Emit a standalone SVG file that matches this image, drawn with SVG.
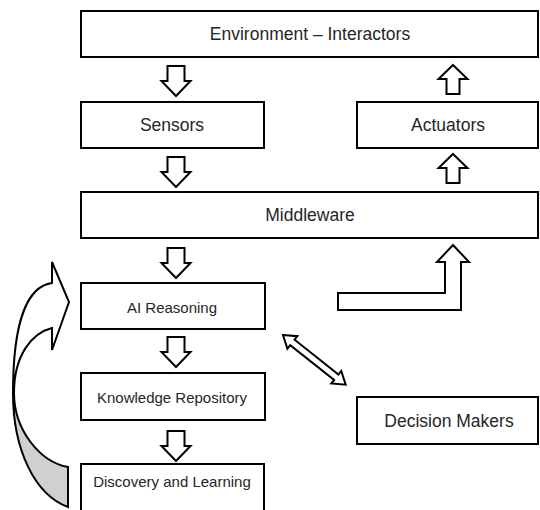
<svg xmlns="http://www.w3.org/2000/svg" xmlns:xlink="http://www.w3.org/1999/xlink" width="540" height="510" viewBox="0 0 540 510">
<style>
.box{fill:#fff;stroke:#000;stroke-width:2}
.arr{fill:#fff;stroke:#000;stroke-width:2;stroke-linejoin:miter}
.t{font-family:"Liberation Sans",Arial,sans-serif;fill:#262626;text-anchor:middle}
.big{font-size:17.5px}
.sm{font-size:15px}
</style>
<defs>
<polygon id="down" points="-8.5,0 8.5,0 8.5,15 14.5,15 0,30 -14.5,15 -8.5,15"/>
<polygon id="up" points="0,0 14.5,14 6.5,14 6.5,29 -6.5,29 -6.5,14 -14.5,14"/>
</defs>
<rect width="540" height="510" fill="#fff"/>
<g id="connectors">
<use xlink:href="#down" href="#down" class="arr" x="176" y="66"/>
<use xlink:href="#down" href="#down" class="arr" x="176" y="157"/>
<use xlink:href="#down" href="#down" class="arr" x="176" y="248"/>
<use xlink:href="#down" href="#down" class="arr" x="176" y="337"/>
<use xlink:href="#down" href="#down" class="arr" x="176" y="431"/>
<use xlink:href="#up" href="#up" class="arr" x="453" y="65"/>
<use xlink:href="#up" href="#up" class="arr" x="453" y="154"/>
<polygon class="arr" points="338,293 445,293 445,262 437,262 453,245 469,262 461,262 461,310 338,310"/>
<g transform="translate(283,335) rotate(38.4)">
<polygon class="arr" points="0,0 12,-8 12,-3.5 68,-3.5 68,-8 80,0 68,8 68,3.5 12,3.5 12,8"/>
</g>
<g id="loop">
<path d="M13,393 C13,450 35,495 68,507 L68,467 C40,462 14,430 14,393 Z" fill="#d0d0d0" stroke="#000" stroke-width="2"/>
<path d="M14,393 C14,355 32,333 52,328 L52,350 L69,302 L52,262 L52,283 C30,286 13,315 13,393 Z" fill="#fff" stroke="#000" stroke-width="2" stroke-linejoin="miter"/>
</g>
</g>
<g id="environment"><rect class="box" x="81" y="11" width="457" height="46"/><text class="t big" x="310" y="40">Environment – Interactors</text></g>
<g id="sensors"><rect class="box" x="81" y="102" width="183" height="46"/><text class="t big" x="172" y="131">Sensors</text></g>
<g id="actuators"><rect class="box" x="357" y="102" width="181" height="46"/><text class="t big" x="448" y="131">Actuators</text></g>
<g id="middleware"><rect class="box" x="81" y="192" width="457" height="46"/><text class="t big" x="310" y="221">Middleware</text></g>
<g id="ai-reasoning"><rect class="box" x="81" y="283" width="184" height="46"/><text class="t sm" x="172" y="313">AI Reasoning</text></g>
<g id="knowledge-repository"><rect class="box" x="81" y="373" width="184" height="47"/><text class="t sm" x="172" y="403">Knowledge Repository</text></g>
<g id="discovery-learning"><rect class="box" x="81" y="464" width="183" height="50"/><text class="t sm" x="172" y="487">Discovery and Learning</text></g>
<g id="decision-makers"><rect class="box" x="357" y="397" width="181" height="47"/><text class="t big" x="449" y="427">Decision Makers</text></g>
</svg>
